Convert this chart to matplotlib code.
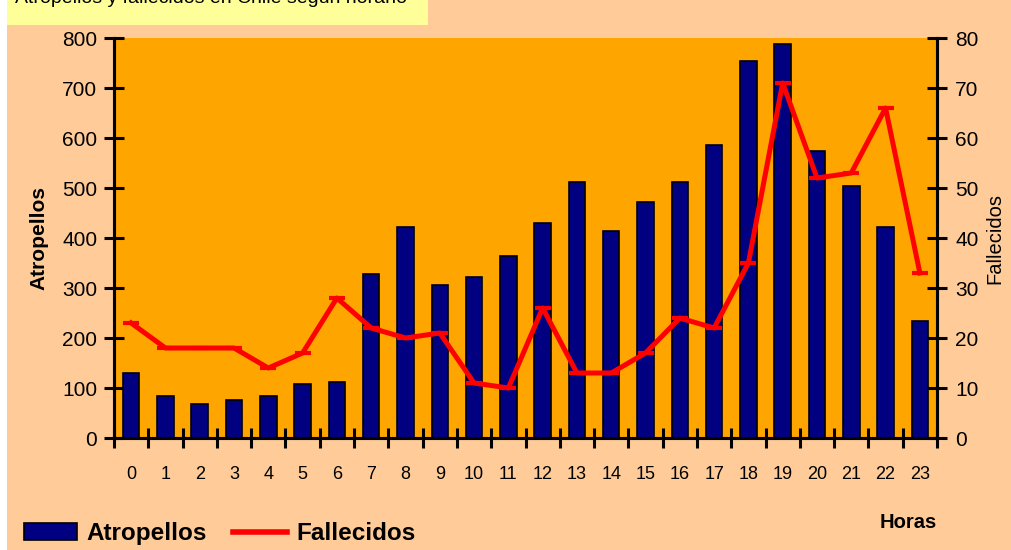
import matplotlib
matplotlib.use('Agg')
import matplotlib.pyplot as plt
import numpy as np
from matplotlib.patches import Rectangle, Patch
from matplotlib.lines import Line2D

horas = [str(h) for h in range(24)]
atropellos = [130, 85, 69, 77, 85, 108, 112, 329, 422, 307, 322, 364,
              430, 512, 415, 473, 512, 586, 754, 789, 574, 504, 422, 235]
fallecidos = [23, 18, 18, 18, 14, 17, 28, 22, 20, 21, 11, 10,
              26, 13, 13, 17, 24, 22, 35, 71, 52, 53, 66, 33]

titulo = 'Atropellos y fallecidos en Chile según horario'

plt.rcParams['font.family'] = ['Liberation Sans', 'DejaVu Sans']

W, H = 1011, 550
fig = plt.figure(figsize=(W / 100, H / 100), dpi=100, facecolor='#FFCC99')

# white strip on the left and yellow title band (title is cut at the top, as in the source)
fig.patches.append(Rectangle((0, 0), 7 / W, 1, transform=fig.transFigure,
                             facecolor='white', edgecolor='none'))
fig.patches.append(Rectangle((7 / W, 1 - 25 / H), 421 / W, 25 / H,
                             transform=fig.transFigure,
                             facecolor='#FFFF99', edgecolor='none'))
fig.text(15 / W, 1 - 3 / H, titulo, fontsize=14, va='baseline', ha='left')

ax = fig.add_axes([114 / W, (H - 438) / H, 823 / W, 400 / H])
ax.set_facecolor('#FFA500')

x = np.arange(len(horas))
ax.bar(x, atropellos, width=0.48, color='#000080', edgecolor='black', linewidth=1.2, zorder=2)
ax.set_xlim(-0.5, 23.5)
ax.set_ylim(0, 800)
ax.set_yticks(range(0, 801, 100))
ax.set_xticks(x)
ax.set_xticklabels(horas, fontsize=13)
ax.set_xticks(np.arange(-0.5, 24, 1), minor=True)
ax.tick_params(axis='x', which='major', length=0, pad=20)
ax.tick_params(axis='x', which='minor', direction='inout', length=14, width=2.2)
ax.tick_params(axis='y', direction='inout', length=14, width=2.2, labelsize=15, pad=5)
ax.set_ylabel('Atropellos', fontsize=15, fontweight='bold', labelpad=10)

for s in ['left', 'bottom', 'right']:
    ax.spines[s].set_linewidth(2.2)
ax.spines['top'].set_visible(False)

ax2 = ax.twinx()
ax2.plot(x, fallecidos, color='red', lw=3.6, marker='_', markersize=11,
         markeredgewidth=3, zorder=3)
ax2.set_ylim(0, 80)
ax2.set_yticks(range(0, 81, 10))
ax2.tick_params(axis='y', direction='inout', length=14, width=2.2, labelsize=15, pad=6)
ax2.set_ylabel('Fallecidos', fontsize=14.5, labelpad=5)
for s in ['left', 'bottom', 'right']:
    ax2.spines[s].set_linewidth(2.2)
ax2.spines['top'].set_visible(False)

handles = [Patch(facecolor='#000080', edgecolor='black', linewidth=1.2),
           Line2D([0], [0], color='red', lw=4)]
fig.legend(handles, ['Atropellos', 'Fallecidos'], loc='lower left',
           bbox_to_anchor=(19 / W, 0.0), ncol=2, frameon=False,
           prop={'size': 17.5, 'weight': 'bold'}, handlelength=2.2,
           handleheight=0.7, columnspacing=1.1, handletextpad=0.37,
           borderaxespad=0.0, borderpad=0.2)

fig.text(908 / W, 1 - 523 / H, 'Horas', fontsize=14.5, fontweight='bold',
         ha='center', va='center')

fig.savefig('out.png', dpi=100, facecolor=fig.get_facecolor())
